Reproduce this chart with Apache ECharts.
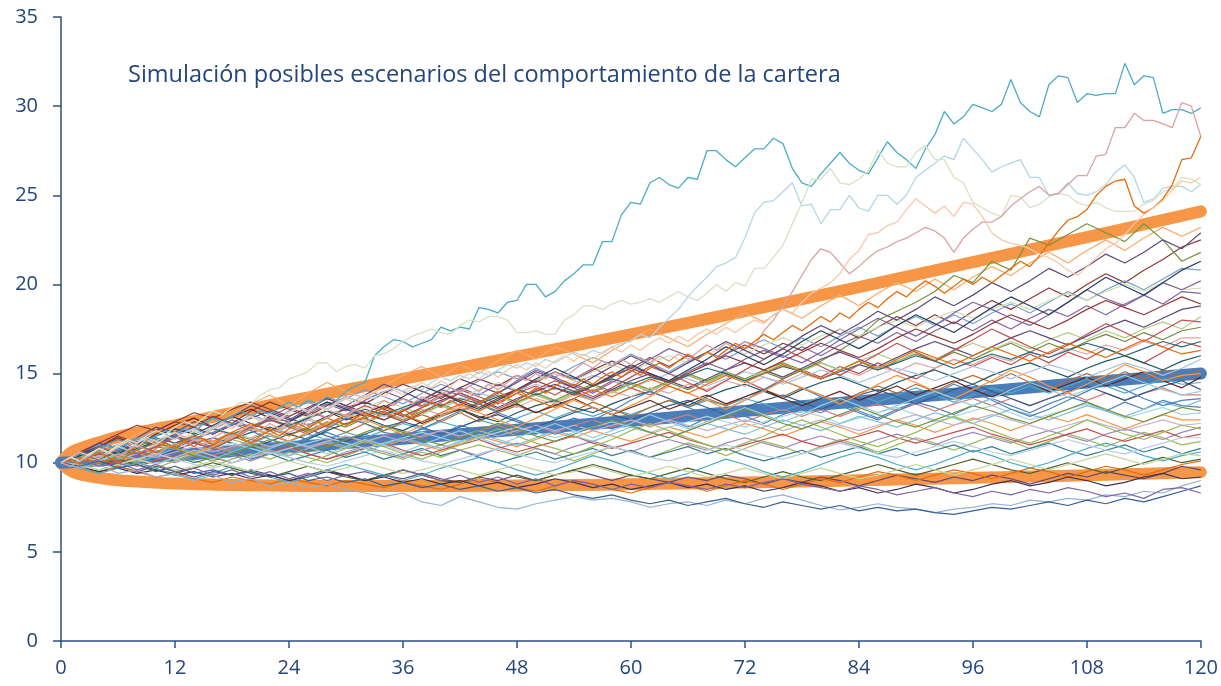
<!DOCTYPE html>
<html>
<head>
<meta charset="utf-8">
<title>Simulación cartera</title>
<script src="https://cdn.jsdelivr.net/npm/echarts@6/dist/echarts.min.js"></script>
<style>
html, body { margin: 0; padding: 0; background: #fff; }
#chart { width: 1221px; height: 686px; }
</style>
</head>
<body>
<div id="chart"></div>
<script>
// titulo y ejes
var chartTitle = 'Simulación posibles escenarios del comportamiento de la cartera';
var xTicks = [0, 12, 24, 36, 48, 60, 72, 84, 96, 108, 120];
var yTicks = [0, 5, 10, 15, 20, 25, 30, 35];

var bandMonths = [0, 1, 2, 3, 4, 6, 8, 10, 12, 15, 18, 21, 24, 30, 36, 42, 48, 54, 60, 66, 72, 78, 84, 90, 96, 102, 108, 114, 120];
var upperBand = [10, 10.55, 10.8, 10.98, 11.15, 11.45, 11.68, 11.9, 12.1, 12.45, 12.8, 13.12, 13.45, 14.08, 14.7, 15.32, 15.95, 16.57, 17.2, 17.85, 18.5, 19.17, 19.85, 20.55, 21.25, 21.95, 22.65, 23.37, 24.1];
var lowerBand = [10, 9.55, 9.35, 9.24, 9.15, 9.02, 8.95, 8.88, 8.83, 8.79, 8.75, 8.73, 8.71, 8.69, 8.69, 8.7, 8.72, 8.75, 8.79, 8.84, 8.89, 8.95, 9.01, 9.08, 9.15, 9.22, 9.3, 9.38, 9.47];
var meanPath = [10, 10.03, 10.07, 10.1, 10.14, 10.2, 10.27, 10.35, 10.42, 10.53, 10.64, 10.75, 10.87, 11.1, 11.35, 11.6, 11.85, 12.1, 12.35, 12.62, 12.9, 13.17, 13.45, 13.7, 13.95, 14.22, 14.5, 14.75, 15.0];

// trayectorias destacadas, valor mensual (mes 0..120)
var pathCyan = [10.0, 10.2, 10.5, 10.3, 10.7, 11.0, 10.8, 11.1, 11.4, 11.2, 11.5, 11.8, 11.6, 11.9, 11.7, 12.2, 12.5, 12.3, 12.6, 12.9, 12.6, 12.9, 12.7, 13.1, 13.4, 13.1, 13.5, 13.3, 13.7, 13.5, 14.0, 14.3,
  14.5, 16.0, 16.5, 16.9, 16.8, 16.5, 16.7, 16.9, 17.6, 17.4, 17.6, 17.5, 18.7, 18.6, 18.4, 19.0, 19.1, 20.0, 20.0, 19.3, 19.6, 20.2, 20.6, 21.1, 21.1, 22.4, 22.4, 23.9,
  24.6, 24.5, 25.7, 26.0, 25.6, 25.4, 26.0, 25.9, 27.5, 27.5, 27.0, 26.6, 27.1, 27.6, 27.6, 28.2, 27.9, 26.5, 25.7, 25.5, 26.2, 26.8, 27.4, 26.8, 26.4, 26.2, 27.1, 28.0, 27.4, 27.0,
  26.5, 27.6, 28.4, 29.7, 29.0, 29.4, 30.1, 29.9, 29.7, 30.1, 31.5, 30.2, 29.7, 29.4, 31.2, 31.7, 31.6, 30.2, 30.7, 30.6, 30.7, 30.7, 32.4, 31.2, 31.7, 31.6, 29.6, 29.8, 29.8, 29.6, 29.9];
var pathLightBlue = [10.0, 10.3, 10.1, 10.5, 10.8, 10.6, 10.9, 10.7, 11.1, 11.4, 11.2, 11.5, 11.3, 11.7, 11.9, 11.6, 12.0, 12.3, 12.0, 12.2, 12.6, 12.4, 12.7, 12.5, 12.8, 13.1, 12.9, 13.2, 13.0, 13.4,
  13.7, 13.5, 13.8, 13.6, 14.0, 14.2, 14.0, 14.3, 14.1, 14.5, 14.8, 14.6, 14.9, 14.7, 15.1, 14.9, 15.2, 15.5, 15.3, 15.6, 15.4, 15.8, 15.6, 15.9, 16.2, 16.0, 16.3, 16.1, 16.5, 16.7,
  16.8, 17.2, 17.0, 17.6, 18.1, 18.6, 19.3, 19.9, 20.4, 21.0, 21.2, 21.5, 22.6, 24.0, 24.6, 24.7, 25.2, 25.7, 24.4, 24.5, 23.4, 24.2, 24.2, 25.0, 24.3, 24.1, 25.0, 25.0, 24.5, 25.0,
  26.0, 26.4, 26.8, 27.2, 27.0, 28.2, 27.6, 27.0, 26.3, 26.6, 26.8, 27.0, 26.0, 26.0, 25.0, 25.1, 25.7, 25.1, 25.0, 25.2, 25.6, 26.3, 26.7, 26.0, 24.6, 24.8, 25.4, 25.5, 25.5, 25.2, 25.6];
var pathPaleGreen = [10.0, 10.3, 10.1, 10.5, 10.8, 10.6, 11.0, 11.3, 11.1, 11.5, 11.8, 11.6, 12.0, 12.3, 12.1, 12.5, 12.9, 12.7, 13.1, 13.4, 13.3, 13.8,
  14.1, 14.2, 14.7, 14.9, 15.1, 15.6, 15.6, 15.1, 15.4, 15.5, 15.3, 16.0, 16.1, 16.4, 16.8, 17.1, 17.3, 17.5, 17.3, 17.2, 17.7, 18.0, 17.9, 18.2, 18.2, 18.0, 17.3, 17.3,
  17.4, 17.2, 17.2, 18.0, 18.3, 18.8, 18.8, 18.6, 18.9, 19.1, 18.9, 19.0, 19.2, 19.0, 19.3, 19.6, 19.3, 19.1, 19.5, 20.0, 19.6, 20.1, 19.9, 20.9, 20.9, 21.5, 22.2, 23.4, 24.6, 25.9,
  25.9, 26.5, 25.7, 25.6, 25.9, 26.4, 27.5, 26.8, 26.6, 26.6, 27.4, 27.8, 27.0, 27.0, 26.0, 25.7, 24.6, 24.3, 24.0, 23.8, 25.0, 24.9, 24.3, 24.5, 24.9, 25.1, 25.0, 24.6, 24.4, 24.6,
  24.3, 24.1, 24.1, 24.1, 24.5, 24.7, 25.2, 25.4, 26.0, 25.9, 25.6];
var pathRose = [10.0, 9.8, 10.1, 10.4, 10.2, 10.6, 10.3, 10.7, 11.0, 10.7, 10.4, 10.8, 11.1, 10.9, 11.3, 11.0, 11.4, 11.7, 11.4, 11.8, 12.1, 11.8, 12.2, 11.9, 12.3, 12.0, 12.4, 12.8, 12.5, 12.9,
  12.6, 13.0, 12.7, 13.1, 13.5, 13.2, 13.6, 13.3, 13.7, 13.4, 13.8, 14.2, 13.9, 14.3, 14.0, 14.4, 14.1, 14.5, 14.9, 14.6, 15.0, 14.7, 15.1, 14.8, 15.2, 15.6, 15.3, 15.7, 15.4, 15.8,
  15.5, 15.9, 15.6, 16.0, 15.7, 16.1, 15.8, 16.2, 16.6, 16.3, 16.7, 16.4, 16.8, 16.5, 17.4, 18.0, 18.8, 19.6, 20.5, 21.4, 22.0, 21.8, 21.2, 20.6, 21.0, 21.5, 21.9, 22.1, 22.4, 22.6,
  22.9, 23.2, 23.0, 22.6, 21.8, 22.6, 23.1, 23.5, 23.5, 23.8, 24.4, 24.8, 25.2, 25.5, 25.0, 25.1, 25.6, 26.1, 26.1, 27.2, 27.3, 28.8, 28.8, 29.6, 29.2, 29.2, 29.0, 28.8, 30.2, 30.0, 28.3];
var pathOrange = [10.0, 10.2, 9.9, 10.3, 10.6, 10.3, 10.0, 10.4, 10.7, 10.4, 10.8, 11.1, 10.8, 11.2, 10.9, 11.3, 11.0, 11.4, 11.7, 11.4, 11.1, 11.5, 11.8, 11.5, 11.9, 12.2, 11.9, 12.3, 12.0, 12.4,
  12.1, 12.5, 12.8, 12.5, 12.9, 12.6, 13.0, 12.7, 13.1, 13.4, 13.1, 13.5, 13.2, 13.6, 13.3, 13.7, 14.0, 13.7, 14.1, 13.8, 14.2, 13.9, 14.3, 14.6, 14.3, 14.7, 14.4, 14.8, 15.1, 14.8,
  15.2, 14.9, 15.3, 15.6, 15.3, 15.7, 16.1, 15.8, 16.2, 15.9, 16.3, 16.7, 16.4, 16.8, 17.2, 16.9, 17.3, 17.7, 17.4, 17.8, 18.2, 17.9, 18.4, 18.1, 18.6, 19.0, 18.7, 19.2, 19.6, 19.3,
  19.8, 20.2, 19.9, 19.5, 19.9, 20.3, 20.0, 20.4, 20.1, 20.5, 20.9, 21.3, 21.0, 21.6, 22.3, 23.0, 23.6, 23.8, 24.2, 25.0, 25.5, 25.8, 25.9, 24.4, 24.0, 24.3, 24.8, 25.6, 27.0, 27.1, 28.3];
var pathPeach = [10.0, 10.3, 10.6, 10.4, 10.8, 10.5, 10.9, 11.2, 10.9, 11.3, 11.0, 11.4, 11.7, 11.4, 11.8, 11.5, 11.9, 12.2, 11.9, 12.3, 12.6, 12.3, 12.7, 12.4, 12.8, 13.1, 12.8, 13.2, 12.9, 13.3,
  13.6, 13.3, 13.7, 14.0, 13.7, 14.1, 13.8, 14.2, 14.5, 14.2, 14.6, 14.3, 14.7, 15.0, 14.7, 15.1, 14.8, 15.2, 15.5, 15.2, 15.6, 15.3, 15.7, 16.0, 15.7, 16.1, 15.8, 16.2, 16.5, 16.2,
  16.6, 16.3, 16.7, 17.0, 16.7, 17.1, 16.8, 17.2, 17.5, 17.2, 17.6, 17.3, 17.7, 18.0, 17.8, 18.3, 18.6, 18.4, 19.0, 19.5, 19.8, 20.1, 20.6, 21.4, 21.9, 22.8, 22.9, 23.3, 23.5, 24.2,
  24.8, 24.4, 24.0, 24.4, 23.8, 24.6, 24.5, 23.8, 22.9, 22.5, 22.3, 22.2, 22.0, 21.7, 21.5, 21.2, 20.8, 20.5, 21.0, 21.5, 22.0, 22.3, 22.8, 23.4, 23.9, 24.3, 24.7, 25.3, 25.8, 25.7, 26.0];
var monthlyPaths = [pathCyan, pathLightBlue, pathPaleGreen, pathRose, pathOrange, pathPeach];
var monthlyColors = ['#4BACC6', '#B3D6E6', '#D6E3C4', '#D9A3A2', '#E46C0A', '#FAC8A8'];

// resto de escenarios, valor cada 2 meses (mes 0, 2, ..., 120)
var scenarios = [
  [10.0, 10.3, 10.1, 10.6, 10.4, 10.9, 10.7, 10.5, 11.0, 10.8, 11.3, 11.1, 10.9, 11.4, 11.7, 11.3, 11.6, 11.2, 11.5, 11.9, 11.6, 12.1, 11.8, 12.2, 12.0, 11.6, 12.1, 12.5, 12.2, 11.9, 12.3, 12.7, 12.4, 12.0, 12.5, 12.9, 12.6, 12.2, 12.7, 13.1, 12.8, 13.3, 12.9, 12.5, 13.0, 13.4, 13.1, 12.7, 13.2, 13.6, 13.2, 12.8, 13.3, 13.7, 13.4, 12.9, 13.4, 13.0, 13.5, 13.2, 13.1],
  [10.0, 10.4, 10.9, 10.6, 11.2, 11.0, 11.5, 11.9, 11.6, 12.2, 12.0, 12.6, 12.3, 12.9, 12.5, 13.1, 13.4, 13.0, 13.6, 13.2, 13.8, 14.1, 13.7, 13.3, 13.9, 14.3, 13.8, 14.4, 14.0, 14.6, 14.2, 13.8, 14.4, 14.9, 14.5, 15.0, 14.6, 14.1, 14.7, 15.2, 14.8, 15.4, 15.0, 15.6, 15.1, 14.7, 15.3, 15.8, 15.4, 15.9, 15.5, 16.1, 15.6, 16.2, 15.8, 16.4, 16.0, 15.6, 16.2, 16.8, 16.5],
  [10.0, 9.7, 10.0, 9.8, 10.2, 9.9, 10.3, 10.1, 9.8, 10.2, 10.5, 10.2, 10.6, 10.3, 10.0, 10.4, 10.8, 10.5, 10.2, 10.6, 10.3, 10.7, 11.0, 10.7, 10.4, 10.8, 10.5, 10.1, 10.5, 10.9, 10.6, 10.3, 10.7, 11.1, 10.8, 10.4, 10.8, 11.2, 10.9, 10.5, 10.9, 11.3, 11.0, 10.6, 11.0, 11.4, 11.1, 10.7, 11.1, 11.5, 11.2, 10.8, 11.2, 11.6, 11.3, 10.9, 11.3, 11.7, 11.4, 11.0, 11.2],
  [10.0, 10.5, 10.2, 10.8, 11.3, 11.0, 11.6, 11.3, 11.9, 12.4, 12.0, 12.6, 13.1, 12.7, 13.3, 12.9, 13.5, 14.0, 13.6, 13.1, 13.7, 14.2, 13.8, 14.4, 14.0, 14.6, 15.1, 14.7, 15.3, 14.8, 15.4, 15.0, 14.5, 15.1, 15.6, 15.2, 15.8, 16.3, 15.9, 16.5, 16.0, 16.6, 17.1, 16.7, 17.3, 16.8, 17.4, 17.9, 17.4, 18.0, 17.5, 18.1, 18.6, 18.2, 18.8, 18.3, 18.9, 19.4, 18.9, 19.6, 19.5],
  [10.0, 10.2, 10.6, 10.3, 10.1, 10.5, 10.9, 10.6, 11.0, 10.7, 11.1, 11.5, 11.2, 11.6, 11.3, 11.7, 11.4, 11.8, 12.2, 11.9, 12.3, 12.0, 12.4, 12.1, 12.5, 12.9, 12.5, 12.9, 12.6, 13.0, 12.7, 13.1, 13.5, 13.1, 13.5, 13.2, 13.6, 13.3, 12.9, 13.3, 13.7, 13.4, 13.8, 13.4, 13.8, 14.2, 13.8, 13.4, 13.8, 14.2, 13.9, 14.3, 13.9, 14.3, 14.7, 14.3, 13.9, 14.3, 14.7, 14.4, 14.5],
  [10.0, 9.8, 10.1, 9.8, 9.5, 9.8, 9.5, 9.2, 9.5, 9.3, 9.6, 9.3, 9.0, 9.3, 9.6, 9.3, 9.0, 9.3, 9.1, 9.4, 9.1, 8.9, 9.2, 9.0, 9.3, 9.0, 9.3, 9.6, 9.3, 9.0, 9.3, 9.1, 8.9, 9.2, 9.0, 9.3, 9.1, 8.8, 9.1, 8.9, 9.2, 9.0, 8.7, 9.0, 9.3, 9.1, 8.9, 9.2, 9.0, 9.3, 9.1, 8.8, 9.1, 9.4, 9.2, 9.5, 9.3, 9.1, 9.4, 9.8, 9.6],
  [10.0, 10.4, 10.9, 11.5, 11.1, 11.8, 12.3, 12.0, 12.6, 12.2, 12.9, 13.4, 13.0, 12.6, 13.2, 13.7, 13.3, 13.9, 14.4, 14.0, 13.6, 14.2, 14.7, 14.3, 14.9, 14.5, 15.1, 14.6, 15.2, 15.7, 15.3, 15.9, 15.4, 16.0, 15.5, 16.1, 16.6, 16.1, 16.7, 16.3, 16.9, 17.5, 17.0, 17.6, 18.2, 17.7, 18.3, 17.8, 18.5, 19.1, 18.6, 19.2, 19.8, 19.3, 20.0, 20.6, 20.1, 20.8, 21.4, 22.1, 22.5],
  [10.0, 10.3, 10.0, 10.4, 10.1, 10.5, 10.2, 10.6, 10.9, 10.6, 10.3, 10.7, 10.4, 10.8, 11.1, 10.8, 11.2, 10.9, 11.3, 11.0, 10.7, 11.1, 11.5, 11.2, 10.9, 11.3, 11.7, 11.4, 11.8, 11.5, 11.2, 11.6, 12.0, 11.7, 11.4, 11.8, 12.2, 11.9, 11.5, 11.9, 12.3, 12.0, 11.6, 12.0, 12.4, 12.1, 11.7, 12.1, 12.5, 12.2, 11.8, 12.2, 12.6, 12.3, 12.7, 12.3, 11.9, 12.3, 12.7, 12.4, 12.4],
  [10.0, 10.2, 10.7, 10.4, 10.9, 11.3, 10.9, 11.4, 11.1, 11.6, 12.0, 11.6, 12.1, 11.7, 12.2, 12.6, 12.2, 12.7, 12.3, 12.8, 13.2, 12.8, 13.3, 12.9, 13.4, 13.8, 13.4, 13.9, 13.5, 14.0, 14.4, 14.0, 14.5, 14.1, 14.6, 15.0, 14.6, 15.1, 14.7, 15.2, 15.6, 15.2, 15.7, 15.2, 15.7, 16.1, 15.7, 16.2, 15.8, 16.3, 16.7, 16.2, 16.7, 16.3, 16.8, 17.2, 16.8, 17.3, 16.9, 17.4, 17.6],
  [10.0, 10.3, 9.9, 10.2, 10.5, 10.1, 10.4, 10.0, 10.3, 10.6, 10.2, 10.5, 10.1, 10.4, 10.7, 10.3, 10.6, 10.2, 10.5, 10.8, 10.4, 10.7, 10.3, 10.0, 10.3, 10.6, 10.2, 10.5, 10.8, 10.4, 10.7, 10.3, 10.6, 10.9, 10.5, 10.8, 10.4, 10.1, 10.4, 10.7, 10.3, 10.6, 10.9, 10.5, 10.8, 10.4, 10.7, 11.0, 10.6, 10.9, 10.5, 10.8, 11.1, 10.7, 10.4, 10.7, 11.0, 10.6, 10.9, 10.5, 10.8],
  [10.0, 10.3, 10.7, 10.4, 10.9, 10.6, 11.0, 11.4, 11.0, 11.5, 11.1, 11.6, 11.2, 11.7, 12.1, 11.7, 12.2, 11.8, 12.3, 12.7, 12.3, 12.8, 12.3, 12.8, 13.2, 12.8, 13.3, 12.9, 13.4, 13.0, 12.6, 13.1, 13.5, 13.1, 13.6, 13.2, 13.7, 14.1, 13.7, 14.2, 13.8, 13.4, 13.9, 14.3, 13.9, 14.4, 14.0, 14.5, 14.9, 14.5, 15.0, 14.5, 14.1, 14.6, 15.0, 14.6, 15.1, 14.7, 15.2, 14.8, 15.2],
  [10.0, 10.5, 11.0, 10.7, 11.3, 11.8, 11.4, 12.0, 12.5, 12.1, 12.7, 12.3, 12.9, 13.4, 13.0, 13.6, 14.1, 13.7, 13.3, 13.9, 14.4, 14.0, 14.6, 15.1, 14.7, 15.3, 14.8, 15.4, 15.9, 15.5, 16.1, 15.6, 15.1, 15.7, 16.2, 15.8, 16.4, 16.9, 16.4, 17.0, 16.5, 17.1, 17.6, 17.1, 17.7, 18.2, 17.7, 18.3, 17.8, 18.4, 18.9, 18.4, 19.0, 19.6, 19.1, 19.7, 20.2, 19.7, 20.3, 20.9, 20.8],
  [10.0, 9.8, 10.2, 10.5, 10.2, 10.6, 10.3, 10.7, 10.4, 10.8, 11.1, 10.8, 11.2, 10.8, 11.2, 11.5, 11.1, 11.5, 11.8, 11.4, 11.8, 11.4, 11.8, 12.1, 11.7, 12.1, 11.7, 12.1, 12.4, 12.0, 12.4, 12.0, 12.4, 12.7, 12.3, 12.7, 12.3, 12.7, 13.0, 12.6, 13.0, 12.6, 13.0, 13.3, 12.9, 13.3, 12.9, 13.3, 13.6, 13.2, 13.6, 13.2, 13.6, 13.9, 13.5, 13.9, 13.5, 13.9, 14.2, 13.8, 13.8],
  [10.0, 10.4, 10.1, 10.6, 11.0, 10.6, 11.1, 11.5, 11.1, 11.6, 12.0, 11.6, 12.1, 12.5, 12.1, 12.6, 12.2, 12.7, 13.1, 12.7, 13.2, 12.8, 13.3, 13.7, 13.3, 13.8, 13.4, 13.9, 14.3, 13.9, 14.4, 14.0, 14.5, 14.9, 14.5, 15.0, 14.6, 15.1, 15.5, 15.1, 15.6, 15.2, 15.7, 16.1, 15.7, 16.2, 15.8, 16.3, 16.7, 16.3, 16.8, 16.4, 16.9, 17.3, 16.9, 17.4, 17.0, 17.5, 17.9, 17.5, 18.2],
  [10.0, 10.2, 9.9, 10.3, 10.6, 10.3, 10.0, 10.4, 10.7, 10.4, 10.1, 10.5, 10.8, 10.5, 10.2, 10.6, 10.9, 10.6, 10.3, 10.7, 11.0, 10.7, 10.4, 10.8, 11.1, 10.8, 10.5, 10.9, 11.2, 10.9, 10.6, 11.0, 11.3, 11.0, 10.7, 11.1, 11.4, 11.1, 10.8, 11.2, 11.5, 11.2, 10.9, 11.3, 11.6, 11.3, 11.0, 11.4, 11.7, 11.4, 11.1, 11.5, 11.8, 11.5, 11.2, 11.6, 11.9, 11.6, 11.3, 11.7, 12.0],
  [10.0, 10.6, 10.3, 11.0, 11.6, 12.1, 11.7, 12.4, 12.0, 12.7, 13.3, 13.8, 13.2, 13.9, 14.5, 14.0, 13.6, 14.3, 14.9, 15.4, 14.8, 15.5, 15.0, 15.7, 16.3, 15.8, 16.5, 16.1, 15.6, 16.3, 16.9, 17.5, 17.0, 16.5, 17.2, 17.8, 18.4, 17.9, 18.6, 18.1, 18.8, 19.4, 18.8, 19.5, 20.1, 19.6, 20.3, 19.7, 20.4, 21.0, 20.5, 21.2, 21.8, 21.2, 21.9, 22.5, 21.9, 22.6, 23.2, 22.7, 23.2],
  [10.0, 10.1, 10.5, 10.8, 10.5, 10.3, 10.7, 11.1, 11.4, 11.1, 10.8, 11.2, 11.6, 11.9, 11.5, 11.2, 11.6, 12.0, 12.3, 12.0, 11.6, 12.0, 12.4, 12.7, 12.3, 12.0, 12.4, 12.8, 13.1, 12.7, 12.4, 12.8, 13.2, 13.5, 13.1, 12.7, 13.1, 13.5, 13.8, 13.4, 13.0, 13.4, 13.8, 14.1, 13.7, 13.3, 13.7, 14.1, 14.4, 14.0, 13.6, 13.2, 13.6, 14.0, 14.3, 13.9, 13.5, 13.9, 14.3, 14.6, 14.1],
  [10.0, 9.7, 9.9, 10.2, 9.9, 9.6, 9.4, 9.7, 10.0, 9.7, 9.4, 9.2, 9.5, 9.8, 9.5, 9.2, 9.0, 9.3, 9.6, 9.3, 9.0, 8.9, 9.2, 9.5, 9.2, 9.0, 9.3, 9.6, 9.9, 9.6, 9.3, 9.1, 9.4, 9.7, 9.4, 9.1, 8.9, 9.2, 9.5, 9.2, 9.0, 9.3, 9.6, 9.9, 9.6, 9.3, 9.6, 9.9, 10.2, 9.9, 9.6, 9.4, 9.7, 10.0, 9.7, 9.4, 9.7, 10.0, 10.3, 10.0, 10.2],
  [10.0, 10.4, 10.7, 10.3, 10.8, 11.2, 11.5, 11.1, 10.8, 11.3, 11.7, 12.0, 11.6, 11.3, 11.8, 12.2, 12.5, 12.1, 11.8, 12.3, 12.7, 13.0, 12.6, 12.3, 12.8, 13.2, 13.5, 13.1, 12.8, 13.3, 13.7, 14.0, 13.6, 13.2, 13.7, 14.1, 14.4, 14.0, 13.6, 14.1, 14.5, 14.8, 14.4, 14.0, 14.5, 14.9, 15.2, 14.8, 14.4, 14.9, 15.3, 15.6, 15.2, 14.8, 15.3, 15.7, 16.0, 15.6, 15.2, 15.7, 16.0],
  [10.0, 10.3, 10.0, 10.5, 10.9, 10.6, 11.0, 11.5, 11.1, 11.6, 11.3, 11.8, 12.2, 11.8, 12.3, 12.0, 12.5, 12.9, 12.4, 12.9, 13.3, 12.9, 13.4, 13.8, 13.4, 13.9, 13.5, 14.0, 14.4, 14.0, 14.5, 14.1, 14.6, 15.0, 14.6, 15.1, 14.7, 15.2, 15.6, 15.2, 15.7, 16.3, 17.0, 18.0, 18.5, 19.0, 19.6, 20.5, 20.1, 21.3, 20.8, 22.6, 22.2, 22.8, 23.4, 22.9, 22.4, 23.4, 22.5, 21.3, 21.8],
  [10.0, 10.2, 10.5, 10.1, 9.8, 10.1, 10.4, 10.7, 10.3, 10.0, 10.3, 10.6, 10.9, 10.5, 10.2, 10.5, 10.8, 11.1, 10.7, 10.4, 10.7, 11.0, 11.3, 10.9, 10.6, 10.9, 11.2, 11.5, 11.1, 10.8, 11.1, 11.4, 11.7, 11.3, 11.0, 10.7, 11.0, 11.3, 11.6, 11.2, 10.9, 11.2, 11.5, 11.8, 11.4, 11.1, 11.4, 11.7, 12.0, 11.6, 11.3, 11.0, 11.3, 11.6, 11.9, 11.5, 11.2, 11.5, 11.8, 11.4, 11.6],
  [10.0, 10.2, 10.6, 11.0, 10.7, 11.2, 11.6, 12.0, 11.6, 12.1, 12.5, 12.9, 12.5, 12.1, 12.6, 13.0, 13.4, 13.0, 12.6, 13.1, 13.5, 13.9, 13.5, 13.1, 13.6, 14.0, 14.4, 14.0, 13.6, 14.1, 14.6, 15.0, 14.6, 14.2, 14.7, 15.2, 15.6, 15.2, 14.8, 15.3, 15.8, 16.2, 15.8, 15.4, 15.9, 16.4, 16.8, 16.4, 16.0, 16.5, 17.0, 17.4, 17.0, 16.6, 17.1, 17.6, 18.0, 17.6, 18.1, 18.6, 18.8],
  [10.0, 10.3, 10.1, 10.4, 10.7, 10.5, 10.2, 10.5, 10.8, 11.1, 10.8, 10.5, 10.8, 11.1, 11.4, 11.1, 10.8, 11.1, 11.4, 11.7, 11.4, 11.1, 11.4, 11.7, 12.0, 11.7, 11.4, 11.7, 12.0, 12.3, 12.0, 11.7, 12.0, 12.3, 12.6, 12.3, 12.0, 12.3, 12.6, 12.9, 12.6, 12.2, 12.5, 12.8, 13.1, 12.7, 12.3, 12.6, 12.9, 13.2, 12.8, 12.4, 12.7, 13.0, 13.3, 12.9, 12.5, 12.8, 13.1, 12.7, 12.8],
  [10.0, 10.4, 10.2, 10.7, 10.5, 11.0, 10.8, 11.3, 11.1, 11.6, 11.4, 11.9, 11.7, 12.2, 12.0, 12.5, 12.3, 12.8, 12.5, 13.0, 12.7, 13.2, 12.9, 13.4, 13.1, 13.6, 13.3, 13.8, 13.5, 14.0, 13.7, 14.2, 13.9, 14.4, 14.1, 14.6, 14.3, 14.8, 14.5, 15.0, 14.7, 15.2, 14.9, 15.4, 15.1, 15.6, 15.3, 15.8, 15.5, 16.0, 15.7, 16.2, 15.9, 16.4, 16.1, 16.6, 16.3, 16.8, 16.5, 17.0, 17.0],
  [10.0, 9.7, 9.5, 9.8, 9.5, 9.2, 9.4, 9.1, 8.9, 9.2, 9.0, 8.8, 9.1, 8.9, 8.7, 9.0, 8.8, 8.6, 8.9, 8.7, 8.5, 8.8, 9.1, 8.9, 8.6, 8.4, 8.7, 9.0, 8.8, 8.5, 8.3, 8.6, 8.9, 8.7, 8.4, 8.7, 9.0, 8.8, 8.5, 8.8, 9.1, 8.9, 9.2, 9.5, 9.3, 9.0, 9.3, 9.6, 9.4, 9.1, 9.4, 9.7, 9.5, 9.2, 9.5, 9.8, 9.6, 9.3, 9.6, 9.9, 10.1],
  [10.0, 10.2, 10.6, 10.3, 10.0, 10.4, 10.8, 10.5, 10.2, 10.6, 11.0, 10.7, 10.4, 10.8, 11.2, 10.9, 10.6, 11.0, 11.4, 11.1, 10.8, 11.2, 11.6, 11.3, 11.0, 11.4, 11.8, 11.5, 11.2, 11.6, 12.0, 11.7, 11.4, 11.8, 12.2, 11.9, 11.6, 12.0, 12.4, 12.1, 11.8, 12.2, 12.6, 12.3, 12.0, 12.4, 12.8, 12.5, 12.2, 12.6, 13.0, 12.7, 12.4, 12.8, 13.2, 12.9, 12.6, 13.0, 13.4, 13.1, 13.5],
  [10.0, 10.5, 10.9, 11.4, 11.0, 11.6, 12.1, 12.5, 12.0, 12.6, 13.0, 12.5, 12.0, 12.5, 12.9, 12.4, 12.8, 13.2, 12.7, 12.2, 12.6, 13.0, 12.5, 12.9, 13.3, 12.8, 13.2, 13.6, 13.1, 12.7, 13.1, 13.5, 13.0, 13.4, 13.8, 13.3, 13.7, 14.1, 13.6, 13.2, 13.6, 14.0, 13.5, 13.9, 14.3, 13.8, 14.2, 14.6, 14.1, 13.7, 14.1, 14.5, 14.0, 14.4, 14.8, 14.3, 14.7, 15.1, 14.6, 14.2, 14.8],
  [10.0, 10.3, 10.8, 10.5, 11.0, 11.4, 11.1, 11.6, 12.0, 11.6, 12.1, 12.5, 12.1, 12.6, 13.0, 12.6, 13.1, 13.5, 13.1, 13.6, 14.0, 13.6, 14.1, 14.5, 14.1, 14.6, 15.0, 14.6, 15.1, 15.5, 15.1, 15.6, 16.0, 15.6, 16.1, 16.5, 16.1, 16.6, 17.0, 16.6, 17.1, 17.5, 17.1, 17.6, 18.0, 17.6, 18.1, 18.5, 18.1, 18.6, 19.0, 18.6, 19.1, 19.5, 19.1, 19.6, 20.0, 19.6, 20.1, 19.7, 19.8],
  [10.0, 9.8, 9.5, 9.7, 9.4, 9.6, 9.3, 9.5, 9.2, 9.4, 9.1, 9.3, 9.0, 9.2, 9.5, 9.3, 9.0, 9.2, 8.9, 9.1, 8.8, 9.0, 8.7, 8.9, 8.6, 8.8, 9.1, 8.9, 8.6, 8.8, 8.5, 8.7, 8.9, 8.6, 8.8, 8.5, 8.7, 8.4, 8.6, 8.9, 8.7, 8.4, 8.6, 8.3, 8.5, 8.8, 8.6, 8.3, 8.5, 8.8, 9.0, 8.7, 8.9, 9.2, 9.0, 8.7, 8.9, 9.2, 9.4, 9.1, 9.2],
  [10.0, 10.3, 10.1, 10.5, 10.9, 10.6, 11.0, 11.4, 11.1, 11.5, 11.9, 11.6, 12.0, 12.4, 12.1, 12.5, 12.9, 12.6, 13.0, 13.4, 13.1, 13.5, 13.9, 13.6, 14.0, 14.4, 14.1, 14.5, 14.9, 14.6, 14.2, 14.6, 15.0, 14.7, 14.3, 14.7, 15.1, 14.8, 14.4, 14.8, 15.2, 14.9, 14.5, 14.9, 15.3, 15.0, 14.6, 15.0, 15.4, 15.1, 14.7, 15.1, 15.5, 15.2, 14.8, 15.2, 15.6, 15.3, 14.9, 15.3, 15.8],
  [10.0, 10.1, 10.4, 10.2, 10.5, 10.3, 10.6, 10.9, 10.6, 10.9, 11.2, 10.9, 11.2, 10.9, 11.2, 11.5, 11.2, 11.5, 11.2, 11.5, 11.8, 11.5, 11.8, 11.5, 11.8, 12.1, 11.8, 12.1, 11.8, 12.1, 12.4, 12.1, 12.4, 12.1, 11.8, 12.1, 12.4, 12.1, 11.8, 12.1, 12.4, 12.1, 11.8, 12.1, 12.4, 12.7, 12.4, 12.1, 12.4, 12.7, 12.4, 12.1, 11.8, 12.1, 12.4, 12.1, 11.8, 12.1, 12.4, 12.1, 12.2],
  [10.0, 10.4, 10.2, 10.6, 11.0, 11.4, 11.1, 11.5, 11.9, 11.6, 12.0, 12.4, 12.1, 12.5, 12.9, 12.6, 13.0, 12.7, 13.1, 13.5, 13.2, 13.6, 13.3, 13.7, 14.1, 13.8, 14.2, 13.9, 14.3, 14.7, 14.4, 14.8, 14.5, 14.9, 15.3, 15.0, 14.6, 15.0, 15.4, 15.1, 14.7, 15.1, 15.5, 15.2, 15.6, 16.0, 15.7, 15.3, 15.7, 16.1, 15.8, 16.2, 15.9, 16.3, 16.7, 16.4, 16.0, 16.4, 16.8, 16.5, 16.8],
  [10.0, 10.4, 10.9, 11.3, 11.0, 10.6, 10.8, 11.3, 11.7, 12.2, 11.8, 11.3, 11.0, 11.4, 11.9, 12.5, 12.2, 11.7, 11.5, 11.9, 12.4, 12.9, 13.3, 12.8, 12.4, 12.0, 11.6, 11.9, 12.4, 12.9, 13.5, 14.0, 13.6, 13.1, 12.7, 13.0, 13.5, 14.1, 14.6, 14.2, 13.7, 13.2, 12.8, 12.4, 12.9, 13.4, 13.9, 14.4, 14.0, 13.5, 13.0, 12.6, 13.0, 13.5, 14.0, 14.5, 14.1, 13.6, 13.2, 13.5, 13.6],
  [10.0, 9.8, 10.2, 10.7, 10.5, 10.9, 11.5, 11.2, 10.9, 11.4, 12.0, 12.5, 12.3, 12.8, 13.4, 13.1, 12.7, 12.4, 12.9, 13.5, 14.1, 13.8, 13.4, 13.9, 14.6, 15.2, 14.8, 14.3, 13.9, 14.5, 15.1, 15.8, 16.4, 16.0, 15.5, 16.1, 16.8, 16.4, 16.0, 15.6, 16.2, 16.9, 17.5, 18.1, 17.6, 17.1, 17.7, 18.4, 19.0, 18.6, 18.1, 17.7, 18.3, 19.0, 19.7, 19.2, 18.8, 19.4, 20.1, 19.7, 20.2],
  [10.0, 10.3, 10.7, 10.4, 10.0, 9.7, 10.1, 10.5, 10.9, 11.3, 11.0, 10.6, 10.3, 10.0, 10.4, 10.8, 11.2, 10.9, 10.5, 10.2, 10.6, 11.0, 11.5, 11.9, 11.5, 11.1, 10.8, 10.5, 10.9, 11.3, 11.8, 12.2, 11.8, 11.4, 11.0, 10.7, 11.1, 11.5, 12.0, 12.4, 12.0, 11.6, 11.2, 10.9, 11.3, 11.7, 12.2, 12.6, 12.2, 11.8, 11.4, 11.1, 11.5, 11.9, 12.4, 12.0, 11.6, 11.3, 11.7, 12.1, 11.9],
  [10.0, 10.5, 10.2, 9.9, 10.4, 10.9, 11.4, 11.1, 10.8, 11.3, 11.9, 12.4, 12.0, 11.6, 12.1, 12.7, 13.2, 12.8, 12.3, 12.8, 13.4, 13.9, 13.5, 13.0, 13.5, 14.1, 14.6, 14.2, 13.7, 14.2, 14.8, 15.4, 15.0, 14.5, 14.0, 14.6, 15.2, 15.8, 16.4, 15.9, 15.4, 14.9, 15.5, 16.1, 16.7, 16.2, 15.7, 16.3, 16.9, 17.5, 17.0, 16.5, 16.1, 16.6, 17.2, 17.8, 17.3, 16.8, 17.4, 18.0, 17.9],
  [10.0, 9.7, 9.4, 9.7, 10.0, 9.7, 9.3, 9.1, 9.4, 9.8, 9.5, 9.2, 8.9, 9.2, 9.6, 9.9, 9.6, 9.3, 9.0, 9.3, 9.7, 10.0, 10.3, 10.0, 9.6, 9.3, 9.6, 10.0, 10.4, 10.1, 9.7, 9.4, 9.1, 9.4, 9.8, 10.2, 9.9, 9.5, 9.2, 9.5, 9.9, 10.3, 10.6, 10.3, 9.9, 9.6, 9.9, 10.3, 10.7, 10.4, 10.0, 9.7, 10.0, 10.4, 10.8, 11.1, 10.8, 10.4, 10.1, 10.4, 10.6],
  [10.0, 10.2, 10.6, 11.0, 11.5, 11.2, 10.8, 10.5, 10.9, 11.4, 11.9, 11.6, 11.2, 11.7, 12.2, 12.7, 12.4, 12.0, 11.6, 12.1, 12.6, 13.1, 12.8, 12.4, 12.0, 12.5, 13.0, 13.5, 13.1, 12.7, 13.2, 13.7, 14.3, 13.9, 13.5, 13.0, 13.5, 14.0, 14.6, 14.2, 13.8, 13.3, 13.8, 14.4, 14.9, 14.5, 14.0, 13.6, 14.1, 14.6, 15.2, 14.8, 14.3, 13.9, 14.4, 14.9, 15.5, 15.1, 14.6, 14.9, 15.0],
  [10.0, 10.4, 10.8, 10.5, 11.0, 11.5, 11.9, 11.6, 12.1, 12.6, 12.2, 11.8, 12.3, 12.9, 13.4, 13.0, 12.6, 13.1, 13.7, 14.3, 13.9, 13.4, 13.0, 13.5, 14.1, 14.7, 15.3, 14.8, 14.3, 14.9, 15.5, 15.0, 14.6, 15.2, 15.8, 16.5, 16.0, 15.5, 16.1, 16.8, 17.4, 16.9, 16.4, 17.0, 17.7, 18.3, 17.8, 17.3, 18.0, 18.7, 19.3, 18.8, 18.3, 19.0, 19.7, 20.4, 19.9, 19.4, 20.1, 20.8, 21.3],
  [10.0, 10.2, 9.9, 10.3, 10.7, 11.1, 10.8, 10.4, 10.1, 10.5, 10.9, 11.3, 11.0, 10.6, 10.9, 11.3, 11.7, 12.1, 11.7, 11.3, 11.0, 11.4, 11.8, 12.2, 11.9, 11.5, 11.2, 11.6, 12.0, 12.4, 12.1, 11.7, 11.4, 11.8, 12.2, 12.6, 13.0, 12.6, 12.2, 11.9, 12.3, 12.7, 13.1, 12.7, 12.3, 12.0, 12.4, 12.8, 13.2, 12.9, 12.5, 12.2, 12.6, 13.0, 13.4, 13.0, 12.6, 12.3, 12.7, 13.1, 12.9],
  [10.0, 10.3, 10.0, 10.4, 10.9, 10.6, 11.0, 11.5, 11.2, 11.7, 12.2, 11.9, 11.5, 12.0, 12.5, 12.1, 12.6, 13.1, 12.7, 12.3, 12.8, 13.3, 12.9, 13.4, 13.9, 13.5, 13.1, 13.6, 14.1, 13.7, 14.2, 14.7, 14.3, 13.9, 14.4, 14.9, 14.5, 15.0, 15.5, 15.1, 14.7, 15.2, 15.7, 15.3, 15.8, 16.3, 15.9, 15.5, 16.0, 16.5, 16.1, 15.7, 16.2, 16.7, 16.3, 15.9, 16.4, 16.9, 16.5, 16.1, 16.3],
  [10.0, 9.8, 10.1, 10.5, 10.2, 9.9, 10.3, 10.7, 10.4, 10.0, 10.4, 10.8, 11.2, 10.9, 10.5, 10.9, 11.3, 11.0, 10.6, 11.0, 11.4, 11.8, 11.4, 11.0, 11.4, 11.8, 12.2, 11.8, 11.4, 11.8, 12.2, 12.7, 12.3, 11.9, 12.3, 12.7, 13.1, 12.7, 12.3, 12.7, 13.2, 13.6, 13.2, 12.8, 13.2, 13.6, 14.0, 13.6, 13.2, 13.6, 14.1, 14.5, 14.1, 13.7, 14.1, 14.5, 14.9, 14.5, 14.1, 13.8, 14.0],
  [10.0, 10.6, 11.1, 11.6, 12.1, 11.8, 12.3, 12.8, 12.5, 13.0, 13.4, 13.0, 12.6, 13.1, 13.6, 13.2, 12.8, 12.4, 12.9, 13.4, 13.9, 13.5, 13.1, 13.6, 14.1, 14.6, 14.2, 13.8, 14.3, 14.8, 15.3, 14.9, 14.5, 15.0, 15.5, 16.0, 15.6, 15.2, 15.7, 16.2, 16.7, 16.3, 15.9, 16.4, 17.0, 17.5, 17.1, 16.7, 17.2, 17.8, 18.3, 17.9, 17.5, 18.0, 18.6, 19.1, 18.7, 18.3, 18.8, 19.3, 18.9],
  [10.0, 9.8, 9.6, 9.9, 10.2, 10.5, 10.2, 9.9, 9.7, 10.0, 10.3, 10.6, 10.3, 10.0, 9.8, 10.1, 10.4, 10.7, 10.4, 10.1, 9.9, 10.2, 10.5, 10.8, 10.5, 10.2, 10.0, 10.3, 10.6, 10.9, 10.6, 10.3, 10.1, 10.4, 10.7, 11.0, 10.7, 10.4, 10.2, 10.5, 10.8, 11.1, 10.8, 10.5, 10.3, 10.6, 10.9, 11.2, 10.9, 10.6, 10.4, 10.7, 11.0, 11.3, 11.0, 10.7, 10.5, 10.8, 11.1, 11.4, 11.4],
  [10.0, 10.5, 11.1, 10.8, 11.4, 12.0, 11.7, 12.3, 12.0, 12.6, 13.2, 12.8, 12.4, 13.0, 13.6, 13.2, 13.8, 14.4, 14.0, 13.5, 14.1, 14.7, 14.3, 13.9, 14.5, 15.1, 14.7, 14.2, 14.8, 15.4, 16.0, 15.5, 15.0, 15.6, 16.2, 16.8, 16.3, 15.8, 16.4, 17.1, 17.7, 17.2, 17.8, 18.5, 18.0, 18.6, 19.3, 18.8, 19.4, 20.1, 19.6, 20.2, 20.9, 20.4, 21.0, 21.7, 21.2, 21.8, 22.5, 22.0, 22.9],
  [10.0, 9.9, 9.6, 9.9, 10.2, 9.9, 9.6, 9.8, 10.1, 9.8, 9.5, 9.8, 10.1, 9.8, 9.5, 9.7, 10.0, 9.7, 9.4, 9.6, 9.9, 9.6, 9.3, 9.6, 9.9, 9.6, 9.3, 9.5, 9.8, 9.5, 9.2, 9.5, 9.8, 9.5, 9.2, 9.4, 9.7, 9.4, 9.1, 9.4, 9.7, 9.4, 9.1, 9.3, 9.6, 9.9, 9.6, 9.3, 9.6, 9.9, 10.2, 9.9, 9.6, 9.9, 10.2, 10.5, 10.2, 9.9, 10.2, 10.5, 10.4],
  // trayectorias mas bajas
  [10.0, 9.7, 9.9, 9.4, 9.6, 9.2, 9.4, 9.0, 9.3, 8.9, 9.1, 8.7, 8.9, 8.6, 8.8, 8.5, 8.3, 8.1, 8.3, 7.8, 7.6, 8.1, 7.8, 7.5, 7.4, 7.7, 7.9, 8.1, 7.9, 8.0, 7.8, 7.5, 7.7, 7.8, 7.6, 7.9, 7.7, 8.0, 8.2, 7.9, 7.6, 7.35, 7.5, 7.7, 7.5, 7.4, 7.2, 7.4, 7.5, 7.7, 7.6, 7.9, 7.8, 8.0, 7.9, 8.2, 8.1, 8.4, 8.3, 8.7, 9.0],
  [10.0, 9.8, 10.1, 9.7, 9.9, 9.5, 9.8, 9.4, 9.6, 9.3, 9.5, 9.2, 9.4, 9.0, 9.2, 8.9, 9.1, 8.7, 8.9, 8.6, 8.8, 8.5, 8.7, 8.4, 8.6, 8.3, 8.5, 8.2, 8.0, 8.2, 7.9, 7.7, 7.9, 7.6, 7.8, 8.0, 7.7, 7.5, 7.8, 7.6, 7.4, 7.6, 7.3, 7.5, 7.3, 7.4, 7.2, 7.1, 7.3, 7.5, 7.4, 7.6, 7.8, 7.6, 7.9, 7.7, 8.0, 7.8, 8.1, 8.4, 8.7],
  [10.0, 10.2, 9.8, 10.0, 9.6, 9.9, 9.5, 9.7, 9.3, 9.6, 9.2, 9.5, 9.1, 9.4, 9.0, 9.3, 9.5, 9.2, 9.6, 9.3, 9.0, 9.3, 8.9, 9.2, 8.8, 9.1, 8.7, 9.0, 8.8, 8.5, 8.8, 8.6, 8.9, 8.7, 8.5, 8.8, 8.6, 8.9, 9.1, 8.8, 8.6, 8.4, 8.7, 8.5, 8.2, 8.4, 8.6, 8.3, 8.1, 8.4, 8.2, 8.5, 8.3, 8.6, 8.4, 8.1, 8.3, 8.0, 8.5, 8.6, 8.3]
];
var scenarioColors = ['#4F81BD', '#C0504D', '#9BBB59', '#8064A2', '#4BACC6', '#5C4776', '#8C3836', '#F79646',
  '#71893F', '#357D91', '#B66D31', '#7BA0CD', '#D37C7A', '#B3CC82', '#9F8AB7', '#F9AB6B',
  '#385D8A', '#4F6228', '#215968', '#77933C', '#C0504D', '#5C4776', '#A5D5E2', '#DFA7A6',
  '#E46C0A', '#78C0D4', '#632523', '#CDDDAC', '#3F3151', '#A7C0DE', '#BFB1D0', '#276A7C',
  '#4F81BD', '#8064A2', '#9BBB59', '#C0504D', '#4BACC6', '#F79646', '#254061', '#77933C',
  '#E46C0A', '#93CDDD', '#953735', '#B9CDE5', '#604A7B', '#C3D69B',
  '#95B3D7', '#376092', '#7F64A2'];

var myChart = echarts.init(document.getElementById('chart'));

function toPairs(months, values) {
    return values.map(function (v, i) { return [months[i], v]; });
}
function stepPairs(step, values) {
    return values.map(function (v, i) { return [i * step, v]; });
}

var series = [];
// bandas gruesas debajo de las trayectorias
[upperBand, lowerBand].forEach(function (band) {
    series.push({
        type: 'line', data: toPairs(bandMonths, band), smooth: 0.5,
        symbol: 'none', silent: true,
        lineStyle: { color: '#F79646', width: 12, cap: 'round', join: 'round' }
    });
});
series.push({
    type: 'line', data: toPairs(bandMonths, meanPath), smooth: 0.5,
    symbol: 'none', silent: true,
    lineStyle: { color: '#4A7DBA', width: 12, cap: 'round', join: 'round' }
});
scenarios.forEach(function (vals, i) {
    series.push({
        type: 'line', data: stepPairs(2, vals), symbol: 'none', silent: true,
        lineStyle: { color: scenarioColors[i % scenarioColors.length], width: 1.2 }
    });
});
monthlyPaths.forEach(function (vals, i) {
    series.push({
        type: 'line', data: stepPairs(1, vals), symbol: 'none', silent: true,
        lineStyle: { color: monthlyColors[i], width: 1.3 }
    });
});

var axisColor = '#2E4F86';
var labelColor = '#24467C';
var font = '"Open Sans", "Noto Sans", sans-serif';

var option = {
    animation: false,
    backgroundColor: '#fff',
    grid: { left: 61, right: 18, top: 17, bottom: 45 },
    graphic: [{
        type: 'text', left: 128, top: 63,
        style: { text: chartTitle, fill: labelColor, fontSize: 23.5, fontFamily: font }
    }],
    xAxis: {
        type: 'value', min: xTicks[0], max: xTicks[xTicks.length - 1], interval: 12,
        axisLine: { show: true, lineStyle: { color: axisColor, width: 1.5 } },
        axisTick: { show: true, length: 7, lineStyle: { color: axisColor, width: 1.5 } },
        splitLine: { show: false },
        axisLabel: { color: labelColor, fontSize: 20, fontFamily: font, margin: 17 }
    },
    yAxis: {
        type: 'value', min: yTicks[0], max: yTicks[yTicks.length - 1], interval: 5,
        axisLine: { show: true, lineStyle: { color: axisColor, width: 1.5 } },
        axisTick: { show: true, length: 8, lineStyle: { color: axisColor, width: 1.5 } },
        splitLine: { show: false },
        axisLabel: { color: labelColor, fontSize: 20, fontFamily: font, margin: 23 }
    },
    series: series
};
myChart.setOption(option);
</script>
</body>
</html>
